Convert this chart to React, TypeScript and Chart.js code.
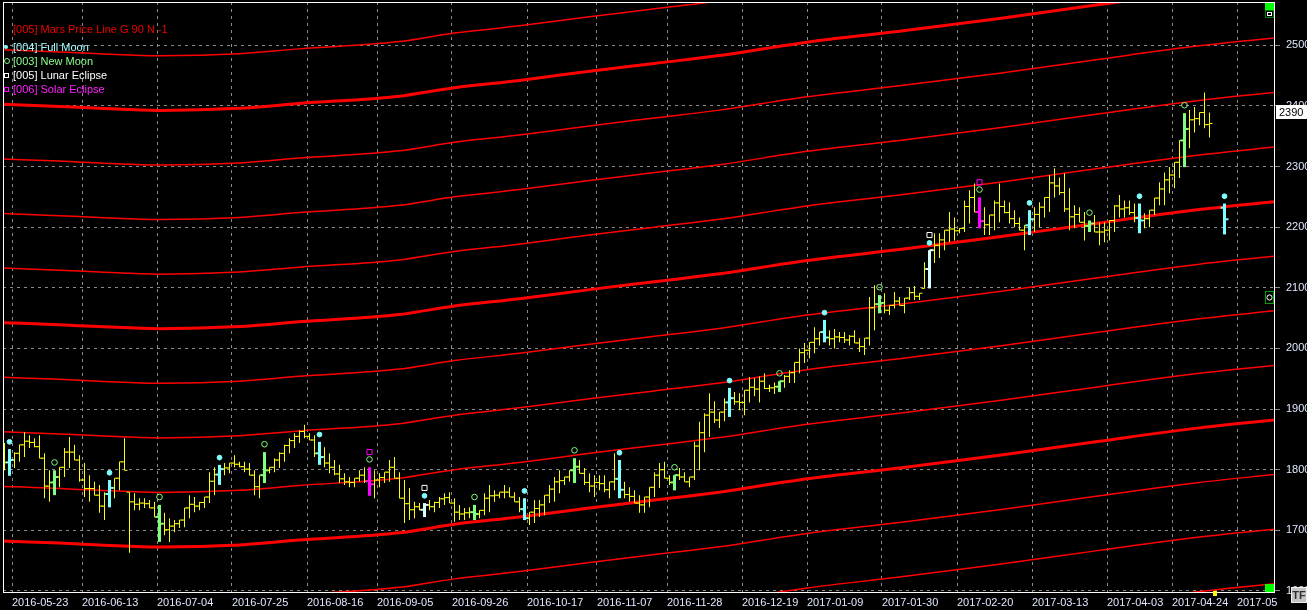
import { useEffect, useRef } from 'react';
import { Chart, registerables } from 'chart.js';
Chart.register(...registerables);

// ---- price bars (index = trading-day position on the chart) ----
const highs = [
  1844,1834,1829,1841,1862,1857,1852,1857,1827,1799,
  1799,1804,1836,1854,1841,1824,1811,1791,1780,1775,
  1763,1783,1786,1813,1852,1763,1761,1753,1753,1750,
  1747,1742,1729,1720,1717,1717,1737,1758,1755,1747,
  1755,1796,1804,1808,1811,1811,1824,1813,1813,1811,
  1799,1791,1829,1804,1819,1829,1841,1852,1860,1865,
  1874,1860,1857,1846,1837,1827,1816,1808,1794,1788,
  1786,1799,1804,1804,1799,1794,1796,1816,1821,1796,
  1783,1770,1747,1745,1745,1750,1747,1755,1761,1763,
  1753,1742,1737,1738,1742,1733,1761,1775,1766,1763,
  1775,1771,1763,1755,1753,1730,1750,1750,1758,1775,
  1788,1799,1788,1799,1819,1816,1803,1794,1791,1791,
  1791,1780,1827,1816,1780,1771,1766,1758,1755,1771,
  1796,1811,1813,1791,1791,1803,1796,1788,1846,1879,
  1893,1926,1913,1895,1918,1935,1928,1926,1931,1953,
  1951,1954,1959,1940,1944,1946,1956,1964,1977,2000,
  2009,2010,2035,2027,2047,2030,2032,2027,2027,2022,
  2030,2017,2017,2085,2104,2088,2091,2071,2093,2085,
  2083,2101,2103,2091,2142,2162,2190,2190,2195,2225,
  2216,2198,2244,2261,2272,2249,2233,2220,2244,2272,
  2244,2241,2228,2216,2203,2228,2233,2241,2249,2286,
  2297,2282,2289,2264,2236,2233,2225,2211,2220,2208,
  2208,2211,2236,2253,2244,2244,2239,2239,2223,2228,
  2248,2274,2290,2299,2307,2343,2388,2393,2398,2389,
  2422,2389,null,null,2239,
];
const lows = [
  1799,1790,1803,1813,1821,1836,1837,1819,1753,1747,
  1758,1771,1788,1803,1816,1780,1755,1747,1758,1729,
  1717,1738,1753,1766,1799,1663,1733,1733,1737,1737,
  1722,1681,1692,1681,1697,1704,1705,1720,1730,1733,
  1737,1745,1758,1775,1791,1794,1804,1804,1796,1791,
  1758,1753,1778,1794,1796,1803,1813,1827,1836,1844,
  1852,1849,1821,1808,1804,1794,1791,1778,1775,1771,
  1771,1780,1778,1757,1753,1771,1778,1780,1786,1753,
  1712,1717,1720,1733,1722,1733,1730,1737,1742,1745,
  1714,1717,1717,1720,1717,1720,1725,1730,1747,1753,
  1753,1755,1747,1730,1717,1709,1712,1722,1725,1745,
  1747,1761,1775,1780,1778,1794,1775,1763,1755,1766,
  1763,1753,1766,1753,1753,1747,1745,1729,1729,1738,
  1755,1770,1786,1775,1766,1783,1780,1771,1783,1799,
  1829,1854,1877,1869,1880,1887,1907,1898,1890,1911,
  1921,1911,1933,1928,1925,1928,1935,1943,1943,1959,
  1976,1984,1992,2005,2010,2005,2000,2010,2009,2005,
  2009,1994,1989,2005,2030,2058,2058,2055,2066,2071,
  2058,2080,2080,2080,2099,2099,2141,2149,2162,2175,
  2178,2190,2192,2206,2225,2198,2187,2187,2195,2208,
  2223,2206,2200,2195,2162,2187,2192,2200,2216,2225,
  2249,2253,2225,2195,2198,2208,2178,2192,2192,2170,
  2175,2178,2192,2216,2216,2220,2208,2190,2198,2200,
  2220,2236,2236,2256,2264,2281,2299,2330,2356,2368,
  2363,2348,null,null,2188,
];
const opens = [
  1830,1812,1816,1827,1841,1847,1845,1838,1819,1773,
  1779,1788,1804,1829,1829,1816,1783,1769,1769,1758,
  1740,1760,1770,1786,1813,1763,1747,1743,1745,1744,
  1737,1722,1711,1701,1707,1711,1717,1737,1743,1740,
  1746,1755,1781,1792,1801,1803,1811,1809,1805,1801,
  1791,1772,1791,1799,1804,1816,1827,1840,1848,1855,
  1863,1855,1849,1827,1821,1811,1804,1793,1785,1780,
  1779,1786,1791,1781,1776,1783,1787,1796,1804,1786,
  1753,1744,1734,1739,1734,1742,1739,1746,1752,1754,
  1745,1730,1727,1729,1730,1727,1733,1753,1757,1758,
  1763,1763,1755,1747,1735,1720,1730,1736,1742,1758,
  1768,1780,1782,1788,1799,1805,1794,1779,1773,1779,
  1777,1767,1780,1785,1767,1759,1756,1745,1742,1755,
  1771,1791,1800,1786,1779,1791,1788,1780,1788,1839,
  1861,1890,1895,1882,1895,1911,1918,1912,1911,1931,
  1936,1933,1946,1934,1935,1937,1946,1954,1960,1977,
  1993,1997,2010,2016,2027,2018,2016,2019,2018,2014,
  2020,2009,2003,2017,2067,2073,2075,2063,2071,2078,
  2071,2083,2092,2086,2099,2131,2162,2170,2179,2195,
  2197,2194,2198,2234,2249,2225,2210,2204,2220,2240,
  2234,2224,2214,2206,2195,2203,2213,2221,2233,2249,
  2273,2268,2257,2230,2217,2221,2208,2202,2206,2192,
  2192,2195,2211,2235,2230,2232,2224,2215,2211,2214,
  2228,2248,2263,2278,2286,2307,2343,2362,2377,2379,
  2389,2369,null,null,2232,
];
const closes = [
  1812,1816,1827,1841,1847,1845,1838,1819,1773,1779,
  1788,1804,1829,1829,1816,1783,1769,1769,1758,1740,
  1760,1770,1786,1813,1799,1747,1743,1745,1744,1737,
  1722,1711,1701,1707,1711,1717,1737,1743,1740,1746,
  1755,1781,1792,1801,1803,1811,1809,1805,1801,1791,
  1772,1791,1799,1804,1816,1827,1840,1848,1855,1863,
  1855,1849,1827,1821,1811,1804,1793,1785,1780,1779,
  1786,1791,1781,1776,1783,1787,1796,1804,1786,1753,
  1744,1734,1739,1734,1742,1739,1746,1752,1754,1745,
  1730,1727,1729,1730,1727,1733,1753,1757,1758,1763,
  1763,1755,1747,1735,1720,1730,1736,1742,1758,1768,
  1780,1782,1788,1799,1805,1794,1779,1773,1779,1777,
  1767,1780,1785,1767,1759,1756,1745,1742,1755,1771,
  1791,1800,1786,1779,1791,1788,1780,1788,1839,1861,
  1890,1895,1882,1895,1911,1918,1912,1911,1931,1936,
  1933,1946,1934,1935,1937,1946,1954,1960,1977,1993,
  1997,2010,2016,2027,2018,2016,2019,2018,2014,2020,
  2009,2003,2017,2067,2073,2075,2063,2071,2078,2071,
  2083,2092,2086,2091,2131,2162,2170,2179,2195,2197,
  2194,2198,2234,2249,2225,2210,2204,2220,2240,2234,
  2224,2214,2206,2195,2203,2213,2221,2233,2249,2273,
  2268,2257,2230,2217,2221,2208,2202,2206,2192,2192,
  2195,2211,2235,2230,2232,2224,2215,2211,2214,2228,
  2248,2263,2278,2286,2307,2343,2362,2377,2379,2389,
  2369,2371,null,null,2213,
];

// ---- lunar events (bar indices) ----
const fullMoonBars = [1, 21, 43, 63, 84, 104, 123, 145, 164, 185, 205, 227, 244];
const newMoonBars = [10, 31, 52, 73, 94, 114, 134, 155, 175, 195, 217, 236];
const lunarEclipseBars = [84, 185];
const solarEclipseBars = [73, 195];

// ---- Mars price line (base curve) and its harmonics ----
const marsBaseIndex = [-0.3, 11, 19, 31, 47, 59, 79, 90, 103, 117, 130, 143, 160.5, 179, 199, 219, 239, 253.9];
const marsBaseValue = [1682.5, 1679, 1676, 1672.5, 1676, 1684, 1696, 1710, 1722, 1737, 1750, 1763, 1785, 1803, 1824, 1847, 1869, 1882];
const marsOffsets = [-270, -180, -90, 0, 90, 180, 270, 360, 450, 540, 630, 720, 810];
const marsMajorOffsets = [0, 360, 720];

// ---- axes ----
const xTickIndex = [1.5, 15.5, 30.5, 45.5, 60.5, 74.5, 89.5, 104.5, 118.5, 132.5, 147.5, 160.5, 175.5, 190.5, 205.5, 220.5, 233.5, 246.5];
const xTickLabels = ['2016-05-23', '2016-06-13', '2016-07-04', '2016-07-25', '2016-08-16', '2016-09-05', '2016-09-26', '2016-10-17', '2016-11-07', '2016-11-28', '2016-12-19', '2017-01-09', '2017-01-30', '2017-02-20', '2017-03-13', '2017-04-03', '2017-04-24', '2017-05'];
const yMin = 1598.35;
const yMax = 2571.3;
const lastPrice = 2390;

const FONT = '"Liberation Sans", Arial, sans-serif';

function kindOf(k: number) {
  if (solarEclipseBars.includes(k)) return '#ff00ff';
  if (lunarEclipseBars.includes(k)) return '#d8ffff';
  if (fullMoonBars.includes(k)) return '#80ffff';
  if (newMoonBars.includes(k)) return '#80ff80';
  return null;
}

function buildDatasets() {
  const normBars: any[] = [], normOpen: any[] = [], normClose: any[] = [];
  const spBars: any[] = [], spColors: string[] = [], spOpen: any[] = [], spClose: any[] = [];
  highs.forEach((h, k) => {
    if (h == null) return;
    const c = kindOf(k);
    if (c) {
      spBars.push({ x: k, y: [lows[k], h] });
      spColors.push(c);
      spOpen.push({ x: k - 0.4, y: opens[k] });
      spClose.push({ x: k + 0.4, y: closes[k] });
    } else {
      normBars.push({ x: k, y: [lows[k], h] });
      normOpen.push({ x: k - 0.3, y: opens[k] });
      normClose.push({ x: k + 0.3, y: closes[k] });
    }
  });
  const tickBase = { type: 'scatter', pointStyle: 'line', showLine: false };
  const ds: any[] = [
    { ...tickBase, type: 'scatter', pointStyle: 'circle', data: fullMoonBars.map(k => ({ x: k, y: (highs[k] as number) + 12 })), pointRadius: 2.4, pointBackgroundColor: '#80ffff', pointBorderColor: '#80ffff', pointBorderWidth: 1 },
    { ...tickBase, type: 'scatter', pointStyle: 'circle', data: newMoonBars.map(k => ({ x: k, y: (highs[k] as number) + 13 })), pointRadius: 2.8, pointBackgroundColor: 'rgba(0,0,0,0)', pointBorderColor: '#80ff80', pointBorderWidth: 1 },
    { ...tickBase, type: 'scatter', pointStyle: 'rect', data: lunarEclipseBars.map(k => ({ x: k, y: (highs[k] as number) + 25 })), pointRadius: 3.6, pointBackgroundColor: 'rgba(0,0,0,0)', pointBorderColor: '#ffffff', pointBorderWidth: 1 },
    { ...tickBase, type: 'scatter', pointStyle: 'rect', data: solarEclipseBars.map(k => ({ x: k, y: (highs[k] as number) + 25 })), pointRadius: 3.6, pointBackgroundColor: 'rgba(0,0,0,0)', pointBorderColor: '#ff00ff', pointBorderWidth: 1 },
    { ...tickBase, data: spOpen, pointRadius: 2, pointBorderColor: spColors, pointBorderWidth: 2 },
    { ...tickBase, data: spClose, pointRadius: 2, pointBorderColor: spColors, pointBorderWidth: 2 },
    { type: 'bar', data: spBars, backgroundColor: spColors, barThickness: 3, grouped: false, borderWidth: 0, inflateAmount: 0 },
    { ...tickBase, data: normOpen, pointRadius: 1.5, pointBorderColor: '#ffff00', pointBorderWidth: 1 },
    { ...tickBase, data: normClose, pointRadius: 1.5, pointBorderColor: '#ffff00', pointBorderWidth: 1 },
    { type: 'bar', data: normBars, backgroundColor: '#ffff00', barThickness: 1, grouped: false, borderWidth: 0, inflateAmount: 0 },
  ];
  marsOffsets.forEach(off => {
    ds.push({
      type: 'line',
      data: marsBaseIndex.map((x, i) => ({ x, y: marsBaseValue[i] + off })),
      borderColor: '#ff0000',
      borderWidth: marsMajorOffsets.includes(off) ? 3 : 1.5,
      pointRadius: 0,
      cubicInterpolationMode: 'monotone',
      fill: false,
    });
  });
  return ds;
}

const decorPlugin = {
  id: 'decor',
  afterDraw(chart: any) {
    const { ctx, chartArea: a, scales } = chart;
    ctx.save();
    ctx.strokeStyle = '#ffffff';
    ctx.lineWidth = 1;
    ctx.setLineDash([]);
    ctx.strokeRect(a.left + 0.5, a.top + 0.5, a.right - a.left, a.bottom - a.top);

    // last price label
    const py = Math.round(scales.y.getPixelForValue(lastPrice));
    ctx.fillStyle = '#ffffff';
    ctx.fillRect(1276, py - 7, 31, 14);
    ctx.fillStyle = '#000000';
    ctx.font = '11px ' + FONT;
    ctx.textBaseline = 'middle';
    ctx.textAlign = 'left';
    ctx.fillText(String(lastPrice), 1279, py + 0.5);

    // top-right toolbar
    ctx.fillStyle = '#00ff00';
    ctx.fillRect(1265, 3, 9, 7);
    ctx.strokeStyle = '#008000';
    ctx.strokeRect(1265.5, 10.5, 8, 7);
    ctx.strokeStyle = '#ffffff';
    ctx.strokeRect(1267.5, 12.5, 4, 3);

    // middle-right marker
    ctx.fillStyle = '#000000';
    ctx.fillRect(1265, 291, 9, 13);
    ctx.strokeStyle = '#00a000';
    ctx.strokeRect(1265.5, 291.5, 8, 12);
    ctx.strokeStyle = '#ffffff';
    ctx.beginPath();
    ctx.arc(1269.5, 297.5, 2.6, 0, Math.PI * 2);
    ctx.stroke();

    // bottom-right green block
    ctx.fillStyle = '#00ff00';
    ctx.fillRect(1265, 584, 9, 8);
    // yellow marker on time axis
    ctx.fillStyle = '#ffff00';
    ctx.fillRect(1213, 591, 4, 5);

    // TF button
    ctx.fillStyle = '#c4c4c4';
    ctx.fillRect(1291, 587, 16, 16);
    ctx.strokeStyle = '#f0f0f0';
    ctx.strokeRect(1291.5, 587.5, 15, 15);
    ctx.fillStyle = '#303030';
    ctx.font = 'bold 11px ' + FONT;
    ctx.textAlign = 'center';
    ctx.fillText('TF', 1299, 595.5);
    ctx.restore();
  },
};

export default function App() {
  const ref = useRef<HTMLCanvasElement | null>(null);
  useEffect(() => {
    const chart = new Chart(ref.current as HTMLCanvasElement, {
      type: 'bar',
      data: { datasets: buildDatasets() },
      options: {
        animation: false,
        responsive: false,
        maintainAspectRatio: false,
        events: [],
        layout: { autoPadding: false, padding: { left: 3, top: 2, right: 0, bottom: 0 } },
        plugins: { legend: { display: false }, tooltip: { enabled: false } },
        scales: {
          x: {
            type: 'linear',
            min: -0.3,
            max: 253.9,
            offset: false,
            afterBuildTicks: (s: any) => { s.ticks = xTickIndex.map(v => ({ value: v })); },
            afterFit: (s: any) => { s.height = 18; s.paddingLeft = 0; s.paddingRight = 0; s.paddingTop = 0; s.paddingBottom = 0; },
            grid: { color: '#8a8a8a', lineWidth: 1, drawTicks: false, offset: false },
            border: { display: false, dash: [3, 4] },
            ticks: {
              autoSkip: false,
              maxRotation: 0,
              minRotation: 0,
              align: 'start',
              padding: 4,
              color: '#dfe8ff',
              font: { family: FONT, size: 11 },
              callback: (v: any) => {
                const i = xTickIndex.indexOf(Number(v));
                return i >= 0 ? xTickLabels[i] : '';
              },
            },
          },
          y: {
            type: 'linear',
            position: 'right',
            min: yMin,
            max: yMax,
            afterFit: (s: any) => { s.width = 33; s.paddingLeft = 0; s.paddingRight = 0; s.paddingTop = 0; s.paddingBottom = 0; },
            grid: { color: '#8a8a8a', lineWidth: 1, drawTicks: true, tickLength: 6, tickColor: '#8a8a8a', tickBorderDash: [] },
            border: { display: false, dash: [3, 4] },
            ticks: {
              stepSize: 100,
              includeBounds: false,
              padding: 6,
              color: '#dfe8ff',
              font: { family: FONT, size: 11 },
              callback: (v: any) => String(v),
            },
          },
        },
      },
      plugins: [decorPlugin],
    } as any);
    return () => chart.destroy();
  }, []);

  const txt = (top: number, color: string, s: string) => (
    <div style={{ position: 'absolute', left: 13, top, color, font: '11px ' + FONT, lineHeight: '11px', whiteSpace: 'nowrap' }}>{s}</div>
  );

  return (
    <div style={{ position: 'fixed', left: 0, top: 0, width: 1307, height: 610, background: '#000', overflow: 'hidden' }}>
      <canvas ref={ref} width={1307} height={610} style={{ display: 'block', width: 1307, height: 610 }} />
      {txt(24, '#f00000', '[005] Mars Price Line G 90 N -1')}
      {txt(41.5, '#9ffcff', '[004] Full Moon')}
      {txt(55.7, '#8fff8f', '[003] New Moon')}
      {txt(69.7, '#ffffff', '[005] Lunar Eclipse')}
      {txt(83.7, '#ff20ff', '[006] Solar Eclipse')}
      <div style={{ position: 'absolute', left: 4, top: 44.5, width: 4, height: 4, borderRadius: '50%', background: '#80ffff' }} />
      <div style={{ position: 'absolute', left: 4, top: 58, width: 6, height: 6, boxSizing: 'border-box', border: '1px solid #80ff80', borderRadius: '50%' }} />
      <div style={{ position: 'absolute', left: 4, top: 73, width: 5, height: 5, boxSizing: 'border-box', border: '1px solid #ffffff' }} />
      <div style={{ position: 'absolute', left: 4, top: 87, width: 5, height: 5, boxSizing: 'border-box', border: '1px solid #ff00ff' }} />
    </div>
  );
}
